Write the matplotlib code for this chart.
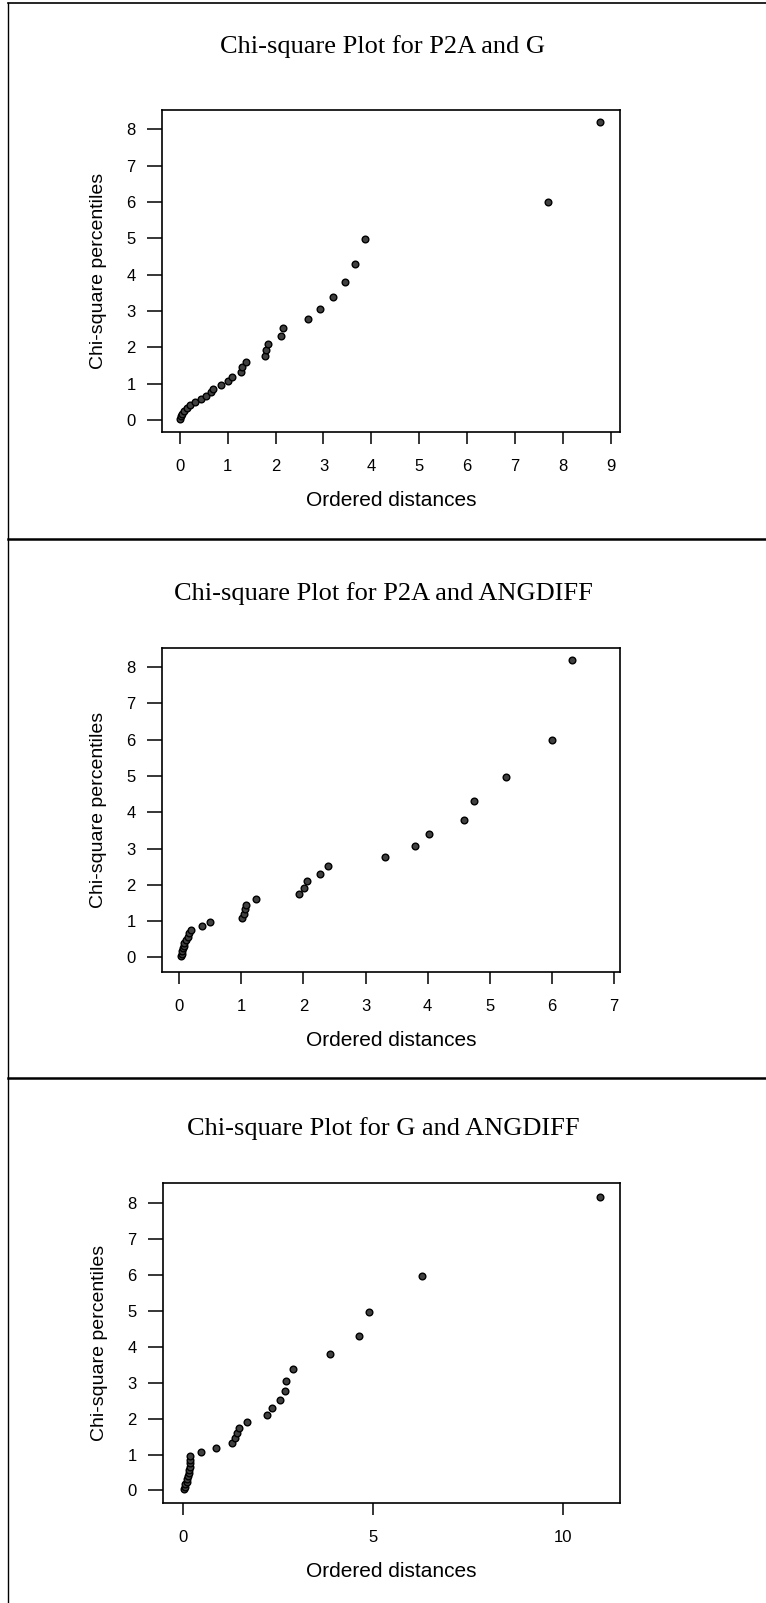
# Graficos chi-cuadrado (tres paneles apilados) recreados con Matplotlib.
import matplotlib
matplotlib.use("Agg")
import matplotlib.pyplot as plt
from matplotlib.lines import Line2D

# Datos
# Percentiles chi-cuadrado (eje y), iguales en los tres paneles.
percentiles_chi2 = [0.034, 0.103, 0.174, 0.248, 0.325, 0.405, 0.488, 0.575, 0.666, 0.762,
                    0.862, 0.967, 1.078, 1.196, 1.321, 1.454, 1.597, 1.751, 1.918, 2.100,
                    2.300, 2.522, 2.773, 3.059, 3.393, 3.794, 4.297, 4.970, 5.991, 8.189]

# Distancias ordenadas (eje x) de cada panel.
distancias_p2a_g = [0.01, 0.03, 0.05, 0.08, 0.15, 0.22, 0.31, 0.44, 0.54, 0.65,
                    0.69, 0.86, 1.01, 1.10, 1.27, 1.31, 1.39, 1.78, 1.81, 1.84,
                    2.11, 2.15, 2.67, 2.93, 3.19, 3.45, 3.66, 3.87, 7.69, 8.78]

distancias_p2a_angdiff = [0.025, 0.035, 0.045, 0.06, 0.07, 0.08, 0.11, 0.14, 0.16, 0.18,
                          0.36, 0.49, 1.01, 1.04, 1.06, 1.08, 1.23, 1.93, 2.01, 2.06,
                          2.27, 2.39, 3.31, 3.80, 4.03, 4.59, 4.75, 5.27, 6.00, 6.33]

distancias_g_angdiff = [0.035, 0.05, 0.07, 0.10, 0.12, 0.14, 0.16, 0.175, 0.18, 0.19,
                        0.20, 0.20, 0.47, 0.885, 1.29, 1.38, 1.42, 1.48, 1.69, 2.22,
                        2.36, 2.57, 2.69, 2.71, 2.90, 3.86, 4.63, 4.89, 6.29, 10.97]

titulos = ["Chi-square Plot for P2A and G",
           "Chi-square Plot for P2A and ANGDIFF",
           "Chi-square Plot for G and ANGDIFF"]

ticks_x = [list(range(0, 10)), list(range(0, 8)), [0, 5, 10]]
ticks_y = list(range(0, 9))

# Tamano de la figura en pixeles
ANCHO, ALTO = 766, 1603
fig = plt.figure(figsize=(ANCHO / 100, ALTO / 100), dpi=100)

# Cajas de los ejes en pixeles: (izq, der, arriba, abajo)
cajas = [(162, 620, 110, 432), (162, 620, 648, 972), (163, 620, 1183, 1503)]
limites_x = [(-0.37, 9.19), (-0.28, 7.10), (-0.52, 11.5)]
limites_y = [(-0.33, 8.53), (-0.40, 8.52), (-0.35, 8.57)]
centros_titulo = [47, 594, 1129]
distancias = [distancias_p2a_g, distancias_p2a_angdiff, distancias_g_angdiff]

fuente_ejes = "Liberation Sans"
fuente_titulo = "Liberation Serif"

for i in range(3):
    izq, der, arr, aba = cajas[i]
    ax = fig.add_axes([izq / ANCHO, 1 - aba / ALTO, (der - izq) / ANCHO, (aba - arr) / ALTO])

    # Puntos del grafico.
    ax.plot(distancias[i], percentiles_chi2, linestyle="none", marker="o",
            markersize=4.8, markerfacecolor="#404040", markeredgecolor="black",
            markeredgewidth=1.0)

    ax.set_xlim(*limites_x[i])
    ax.set_ylim(*limites_y[i])
    ax.set_xticks(ticks_x[i])
    ax.set_yticks(ticks_y)

    for spine in ax.spines.values():
        spine.set_linewidth(1.2)

    ax.tick_params(axis="y", direction="out", length=11, width=1.1, pad=8,
                   labelsize=12)
    ax.tick_params(axis="x", direction="out", length=8.5, width=1.1, pad=11,
                   labelsize=12)
    for lab in ax.get_xticklabels() + ax.get_yticklabels():
        lab.set_fontfamily(fuente_ejes)

    ax.set_xlabel("Ordered distances", fontsize=15, family=fuente_ejes, labelpad=12)
    ax.set_ylabel("Chi-square percentiles", fontsize=14, family=fuente_ejes, labelpad=14)

    # Titulo centrado en la figura.
    fig.text(0.5, 1 - centros_titulo[i] / ALTO, titulos[i], ha="center", va="center",
             fontsize=19, family=fuente_titulo)

# Marco de los paneles.
def linea(x0, y0, x1, y1, ancho=1.6):
    fig.add_artist(Line2D([x0 / ANCHO, x1 / ANCHO], [1 - y0 / ALTO, 1 - y1 / ALTO],
                          color="black", linewidth=ancho))

linea(8, 3, ANCHO, 3, 1.2)
linea(8, 3, 8, ALTO, 1.0)
linea(8, 539, ANCHO, 539, 1.8)
linea(8, 1078, ANCHO, 1078, 1.8)

fig.savefig("out.png", dpi=100)
